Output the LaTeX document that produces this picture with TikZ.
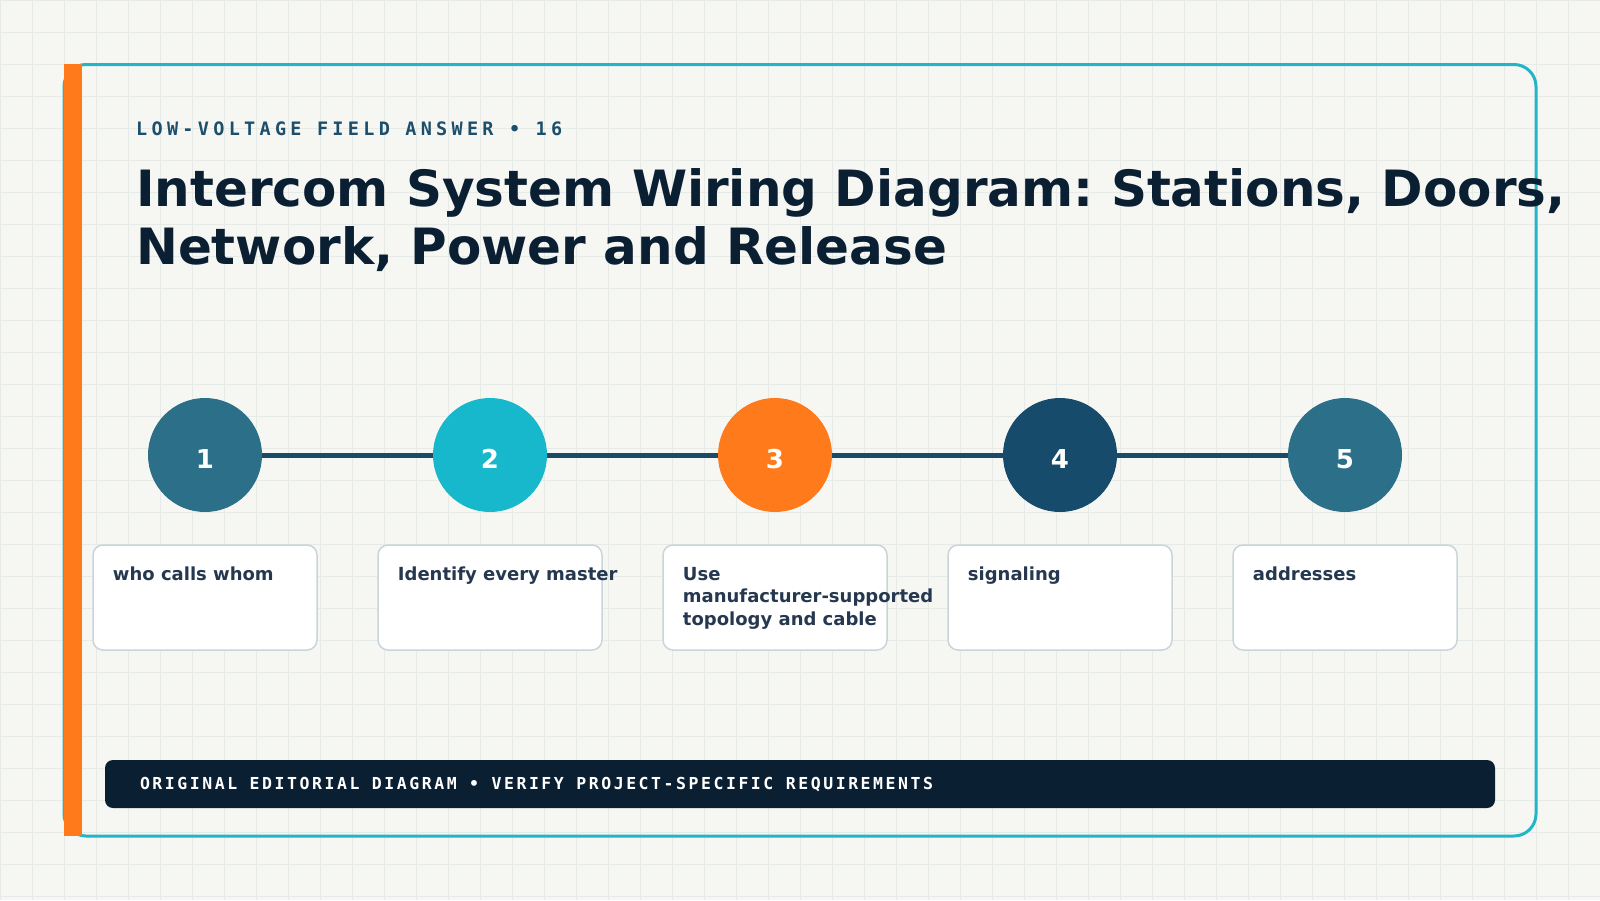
\documentclass[tikz,border=0pt]{standalone}
\usepackage{fontspec}
\setmainfont{DejaVu Sans}
\newfontfamily\kickerfont[LetterSpace=23.2]{DejaVu Sans Mono}
\newfontfamily\footfont[LetterSpace=15.4]{DejaVu Sans Mono}
\frenchspacing

\definecolor{paper}{HTML}{F6F7F3}
\definecolor{gridline}{HTML}{E6EBE7}
\definecolor{framecyan}{HTML}{22B5C6}
\definecolor{accent}{HTML}{FF7A1A}
\definecolor{kicker}{HTML}{1D4E6B}
\definecolor{titleink}{HTML}{0B1F33}
\definecolor{stepteal}{HTML}{2B6F88}
\definecolor{stepcyan}{HTML}{17B8CB}
\definecolor{stepnavy}{HTML}{174B6B}
\definecolor{wire}{HTML}{1B4A66}
\definecolor{boxline}{HTML}{C9D5DA}
\definecolor{noteink}{HTML}{26384F}

\begin{document}
\begin{tikzpicture}[x=1pt,y=-1pt,
  stepdot/.style={circle, minimum size=114pt, inner sep=0pt, text=white,
    text height=27pt, text depth=0pt, font=\bfseries\fontsize{26}{30}\selectfont},
  notebox/.style={draw=boxline, line width=1.5pt, fill=white, rounded corners=10pt,
    minimum width=224pt, minimum height=105pt, inner sep=0pt},
  notetext/.style={anchor=north west, inner sep=0pt, align=left, text=noteink,
    font=\bfseries\fontsize{18}{22.5}\selectfont}]
  \useasboundingbox (0,0) rectangle (1600,900);

  % Paper and grid
  \fill[paper] (0,0) rectangle (1600,900);
  \foreach \gx in {0,32,...,1600} \draw[gridline, line width=0.8pt] (\gx,0) -- (\gx,900);
  \foreach \gy in {0,32,...,896} \draw[gridline, line width=0.8pt] (0,\gy) -- (1600,\gy);

  % Frame
  \draw[framecyan, line width=3pt, rounded corners=22pt] (64,64.5) rectangle (1536,836);
  \fill[accent] (64,64) rectangle (82,836);

  % Heading
  \node[anchor=base west, inner sep=0pt, text=kicker, font=\kickerfont\bfseries\fontsize{18.5}{20}\selectfont]
    (kick) at (136,135) {LOW-VOLTAGE FIELD ANSWER • 16};
  \node[anchor=base west, inner sep=0pt, text=titleink, font=\bfseries\fontsize{50}{57}\selectfont]
    (title1) at (136,206) {Intercom System Wiring Diagram: Stations, Doors,};
  \node[anchor=base west, inner sep=0pt, text=titleink, font=\bfseries\fontsize{50}{57}\selectfont]
    (title2) at (136,264) {Network, Power and Release};

  % Steps
  \node[stepdot, fill=stepteal] (s1) at (205,455) {1};
  \node[stepdot, fill=stepcyan] (s2) at (490,455) {2};
  \node[stepdot, fill=accent] (s3) at (775,455) {3};
  \node[stepdot, fill=stepnavy] (s4) at (1060,455) {4};
  \node[stepdot, fill=stepteal] (s5) at (1345,455) {5};
  \draw[wire, line width=5pt] (s1) -- (s2);
  \draw[wire, line width=5pt] (s2) -- (s3);
  \draw[wire, line width=5pt] (s3) -- (s4);
  \draw[wire, line width=5pt] (s4) -- (s5);

  % Notes
  \node[notebox] (b1) at (205,597.5) {};
  \node[notebox] (b2) at (490,597.5) {};
  \node[notebox] (b3) at (775,597.5) {};
  \node[notebox] (b4) at (1060,597.5) {};
  \node[notebox] (b5) at (1345,597.5) {};
  \node[notetext] (t1) at ([xshift=20.5pt, yshift=-22.5pt]b1.north west) {who calls whom};
  \node[notetext] (t2) at ([xshift=20.5pt, yshift=-22.5pt]b2.north west) {Identify every master};
  \node[notetext] (t3) at ([xshift=20.5pt, yshift=-22.5pt]b3.north west) {Use\\manufacturer-supported\\topology and cable};
  \node[notetext] (t4) at ([xshift=20.5pt, yshift=-22.5pt]b4.north west) {signaling};
  \node[notetext] (t5) at ([xshift=20.5pt, yshift=-22.5pt]b5.north west) {addresses};

  % Footer
  \node[fill=titleink, rounded corners=8pt, minimum width=1390pt, minimum height=48pt, inner sep=0pt]
    (foot) at (800,784) {};
  \node[anchor=west, inner sep=0pt, text=white, font=\footfont\bfseries\fontsize{16.5}{18}\selectfont]
    (foottext) at ([xshift=35pt]foot.west) {ORIGINAL EDITORIAL DIAGRAM • VERIFY PROJECT-SPECIFIC REQUIREMENTS};
\end{tikzpicture}
\end{document}
